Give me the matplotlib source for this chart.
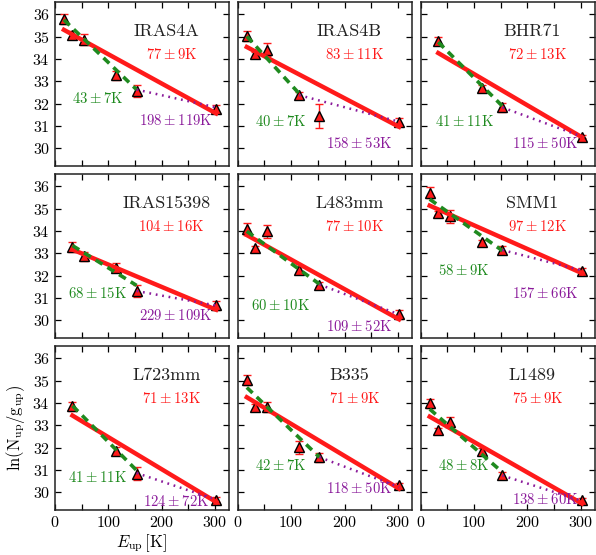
import matplotlib
matplotlib.use('Agg')
import matplotlib.pyplot as plt
from matplotlib.ticker import MultipleLocator

plt.rcParams['font.family'] = 'serif'
plt.rcParams['font.serif'] = ['cmr10']
plt.rcParams['mathtext.fontset'] = 'cm'
plt.rcParams['axes.formatter.use_mathtext'] = True

sources = ['IRAS4A', 'IRAS4B', 'BHR71',
           'IRAS15398', 'L483mm', 'SMM1',
           'L723mm', 'B335', 'L1489']

e_up = [[17, 33, 55, 115, 153, 302],
        [17, 33, 55, 115, 153, 302],
        [33, 115, 153, 302],
        [33, 55, 115, 153, 302],
        [17, 33, 55, 115, 153, 302],
        [17, 33, 55, 115, 153, 302],
        [33, 115, 153, 302],
        [17, 33, 55, 115, 153, 302],
        [17, 33, 55, 115, 153, 302]]

ln_n = [[35.78, 35.09, 34.87, 33.27, 32.56, 31.78],
        [35.03, 34.21, 34.42, 32.38, 31.44, 31.19],
        [34.81, 32.72, 31.83, 30.52],
        [33.27, 32.86, 32.35, 31.31, 30.66],
        [34.09, 33.24, 33.99, 32.26, 31.60, 30.26],
        [35.73, 34.81, 34.66, 33.50, 33.15, 32.23],
        [33.85, 31.87, 30.83, 29.67],
        [35.03, 33.84, 33.84, 32.02, 31.57, 30.31],
        [34.00, 32.77, 33.17, 31.84, 30.75, 29.64]]

ln_err = [[0.22, 0.15, 0.25, 0.20, 0.28, 0.15],
          [0.22, 0.10, 0.30, 0.15, 0.55, 0.15],
          [0.20, 0.10, 0.20, 0.08],
          [0.23, 0.22, 0.20, 0.25, 0.22],
          [0.25, 0.10, 0.30, 0.12, 0.12, 0.20],
          [0.23, 0.10, 0.30, 0.12, 0.20, 0.10],
          [0.22, 0.15, 0.30, 0.10],
          [0.22, 0.10, 0.22, 0.30, 0.20, 0.10],
          [0.20, 0.10, 0.20, 0.15, 0.15, 0.10]]

# fitted lines, values at start / end of each fit range
fit_all = [(35.31, 31.56), (34.54, 30.96), (34.27, 30.49),
           (33.17, 30.47), (33.82, 30.04), (35.14, 32.11),
           (33.44, 29.56), (34.26, 30.16), (33.39, 29.49)]
e_break = [153, 115, 153, 153, 153, 153, 153, 153, 153]
fit_cold = [(35.76, 32.63), (35.02, 32.45), (34.76, 31.89),
            (33.35, 31.56), (33.99, 31.62), (35.43, 33.12),
            (33.88, 30.98), (34.70, 31.57), (33.73, 30.90)]
fit_warm = [(32.63, 31.83), (32.38, 31.19), (31.83, 30.52),
            (31.31, 30.66), (31.60, 30.26), (33.15, 32.23),
            (30.86, 29.67), (31.57, 30.23), (30.75, 29.61)]

t_all = ['77 \\pm 9', '83 \\pm 11', '72 \\pm 13',
         '104 \\pm 16', '77 \\pm 10', '97 \\pm 12',
         '71 \\pm 13', '71 \\pm 9', '75 \\pm 9']
t_cold = ['43 \\pm 7', '40 \\pm 7', '41 \\pm 11',
          '68 \\pm 15', '60 \\pm 10', '58 \\pm 9',
          '41 \\pm 11', '42 \\pm 7', '48 \\pm 8']
t_warm = ['198 \\pm 119', '158 \\pm 53', '115 \\pm 50',
          '229 \\pm 109', '109 \\pm 52', '157 \\pm 66',
          '124 \\pm 72', '118 \\pm 50', '138 \\pm 60']

# label heights (axes fraction)
cold_y = [0.41, 0.27, 0.27, 0.27, 0.20, 0.41, 0.20, 0.27, 0.27]
warm_y = [0.28, 0.135, 0.135, 0.135, 0.07, 0.27, 0.05, 0.13, 0.065]

red = '#ff1a1a'
green = '#1f8a1f'
purple = '#8a1a9a'

fig, axes = plt.subplots(3, 3, figsize=(5.96, 5.55), dpi=100, sharex=True, sharey=True)
plt.subplots_adjust(left=0.092, right=0.998, top=0.996, bottom=0.081, wspace=0.05, hspace=0.05)

for i, ax in enumerate(axes.flat):
    x = e_up[i]
    y = ln_n[i]
    ax.errorbar(x, y, yerr=ln_err[i], fmt='^', color=red, mfc=red, mec='black',
                mew=1.0, ms=6.5, ecolor=red, elinewidth=1.0, capsize=3, capthick=1.0, zorder=2)

    # fits
    ax.plot([x[0], x[-1]], fit_all[i], color=red, lw=3.2, zorder=3)
    ax.plot([x[0], e_break[i]], fit_cold[i], color=green, lw=2.6, ls=(0, (2.2, 1.6)), zorder=3)
    ax.plot([e_break[i], x[-1]], fit_warm[i], color=purple, lw=1.8, ls=(0, (0.7, 1.9)), zorder=3)

    ax.text(0.64, 0.82, sources[i], transform=ax.transAxes, ha='center', va='center',
            fontsize=13, color='#222222')
    ax.text(0.67, 0.68, '$' + t_all[i] + '$K', transform=ax.transAxes, ha='center',
            va='center', fontsize=10.6, color=red)
    xc = 0.245 if i % 3 < 2 else 0.25
    ax.text(xc, cold_y[i], '$' + t_cold[i] + '$K', transform=ax.transAxes, ha='center',
            va='center', fontsize=10.6, color=green)
    xw = 0.695 if i % 3 < 2 else 0.715
    ax.text(xw, warm_y[i], '$' + t_warm[i] + '$K', transform=ax.transAxes, ha='center',
            va='center', fontsize=10.6, color=purple)

    ax.set_xlim(0, 326)
    ax.set_ylim(29.2, 36.55)
    ax.xaxis.set_major_locator(MultipleLocator(100))
    ax.xaxis.set_minor_locator(MultipleLocator(50))
    ax.yaxis.set_major_locator(MultipleLocator(1))
    ax.tick_params(which='both', direction='in', top=True, right=True, labelsize=11.5)
    ax.tick_params(which='major', length=4.5, width=0.9)
    ax.tick_params(which='minor', length=4.5, width=0.9)
    for s in ax.spines.values():
        s.set_linewidth(1.1)
        s.set_color('#222222')

axes[2, 0].set_ylabel(r'$\ln(\rm N_{up}/g_{up})$', fontsize=12)
axes[2, 0].set_xlabel(r'$E_{\rm up}\,$[K]', fontsize=12, labelpad=2)

plt.savefig('out.png', dpi=100)
